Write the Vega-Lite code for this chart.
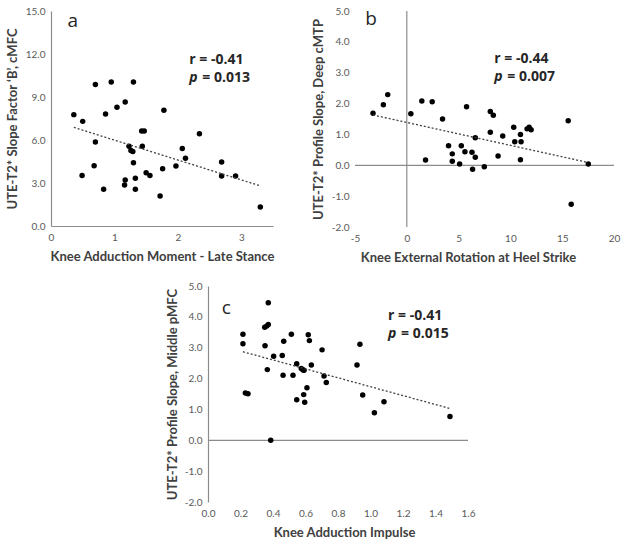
{
  "$schema": "https://vega.github.io/schema/vega-lite/v6.json",
  "padding": {"left": 6, "top": 6, "right": 5, "bottom": 5},
  "background": "white",
  "config": {
    "view": {"stroke": null},
    "font": "Lato",
    "locale": {"number": {"decimal": ".", "thousands": ",", "grouping": [3], "currency": ["$", ""], "minus": "-"}},
    "axis": {
      "grid": false, "ticks": false, "domainColor": "#8c8c8c", "domainWidth": 1.2,
      "labelColor": "#595959", "labelFont": "Lato", "labelFontSize": 10,
      "titleFont": "Lato", "titleFontSize": 13, "titleFontWeight": "bold", "titleColor": "#404040",
      "labelPadding": 6, "labelOverlap": false, "labelFlush": false, "labelBound": false
    },
    "text": {"font": "Open Sans"}
  },
  "datasets": {
    "a": [
      {"x":0.36,"y":7.77},{"x":0.50,"y":7.30},{"x":0.70,"y":9.88},{"x":0.95,"y":10.05},{"x":1.30,"y":10.05},
      {"x":1.17,"y":8.65},{"x":1.04,"y":8.28},{"x":0.86,"y":7.81},{"x":1.78,"y":8.07},{"x":1.43,"y":6.63},
      {"x":1.47,"y":6.63},{"x":2.34,"y":6.44},{"x":0.70,"y":5.86},{"x":1.23,"y":5.56},{"x":1.44,"y":5.56},
      {"x":1.26,"y":5.26},{"x":1.29,"y":5.19},{"x":2.07,"y":5.40},{"x":2.12,"y":4.72},{"x":1.30,"y":4.42},
      {"x":2.69,"y":4.47},{"x":0.68,"y":4.21},{"x":1.97,"y":4.19},{"x":1.76,"y":4.00},{"x":0.49,"y":3.53},
      {"x":1.50,"y":3.72},{"x":1.56,"y":3.53},{"x":2.69,"y":3.49},{"x":2.91,"y":3.49},{"x":1.33,"y":3.33},
      {"x":1.17,"y":3.21},{"x":1.16,"y":2.86},{"x":0.83,"y":2.56},{"x":1.33,"y":2.56},{"x":1.72,"y":2.09},
      {"x":3.30,"y":1.33}
    ],
    "aTrend": [{"x":0.36,"y":6.88},{"x":3.30,"y":2.80}],
    "b": [
      {"x":-3.26,"y":1.69},{"x":-2.26,"y":1.96},{"x":-1.84,"y":2.29},{"x":0.39,"y":1.67},{"x":1.45,"y":2.08},
      {"x":2.45,"y":2.06},{"x":1.81,"y":0.17},{"x":3.45,"y":1.50},{"x":5.77,"y":1.90},{"x":8.06,"y":1.74},
      {"x":8.35,"y":1.62},{"x":8.06,"y":1.07},{"x":6.61,"y":0.89},{"x":9.26,"y":0.95},{"x":4.03,"y":0.63},
      {"x":5.26,"y":0.63},{"x":5.61,"y":0.44},{"x":6.29,"y":0.42},{"x":4.39,"y":0.37},{"x":6.61,"y":0.26},
      {"x":4.39,"y":0.13},{"x":5.10,"y":0.04},{"x":6.35,"y":-0.13},{"x":7.48,"y":-0.05},{"x":8.81,"y":0.30},
      {"x":10.32,"y":1.23},{"x":10.97,"y":1.00},{"x":10.42,"y":0.76},{"x":11.03,"y":0.76},{"x":10.97,"y":0.18},
      {"x":11.61,"y":1.18},{"x":11.81,"y":1.23},{"x":12.00,"y":1.15},{"x":15.58,"y":1.44},{"x":17.52,"y":0.04},
      {"x":15.87,"y":-1.26}
    ],
    "bTrend": [{"x":-3.26,"y":1.63},{"x":17.5,"y":0.09}],
    "c": [
      {"x":0.215,"y":3.44},{"x":0.215,"y":3.13},{"x":0.23,"y":1.53},{"x":0.246,"y":1.51},{"x":0.349,"y":3.66},
      {"x":0.361,"y":3.70},{"x":0.371,"y":3.75},{"x":0.371,"y":4.46},{"x":0.351,"y":3.06},{"x":0.365,"y":2.29},
      {"x":0.386,"y":0.0},{"x":0.404,"y":2.72},{"x":0.457,"y":2.75},{"x":0.466,"y":3.21},{"x":0.462,"y":2.11},
      {"x":0.513,"y":3.44},{"x":0.523,"y":2.11},{"x":0.546,"y":2.48},{"x":0.546,"y":1.31},{"x":0.574,"y":2.33},
      {"x":0.585,"y":2.28},{"x":0.591,"y":2.27},{"x":0.589,"y":1.48},{"x":0.595,"y":1.23},{"x":0.609,"y":1.70},
      {"x":0.617,"y":3.42},{"x":0.624,"y":3.23},{"x":0.636,"y":2.44},{"x":0.702,"y":2.93},{"x":0.714,"y":2.08},
      {"x":0.728,"y":1.87},{"x":0.917,"y":2.44},{"x":0.935,"y":3.11},{"x":0.952,"y":1.47},{"x":1.024,"y":0.89},
      {"x":1.083,"y":1.25},{"x":1.489,"y":0.77}
    ],
    "cTrend": [{"x":0.215,"y":2.87},{"x":1.489,"y":1.03}],
    "zero": [{"v":0}],
    "one": [{}],
    "none": []
  },
  "spacing": 17,
  "vconcat": [
    {
      "hconcat": [
        {
          "width": 222, "height": 215,
          "layer": [
            {
              "data": {"name": "a"},
              "mark": {"type": "circle", "size": 30, "color": "black", "opacity": 1},
              "encoding": {
                "x": {"field": "x", "type": "quantitative", "scale": {"domain": [0, 3.5], "nice": false, "zero": false},
                      "axis": {"values": [0,1,2,3], "tickCount": 12, "format": "d", "title": "Knee Adduction Moment - Late Stance", "titlePadding": 8}},
                "y": {"field": "y", "type": "quantitative", "scale": {"domain": [0, 15], "nice": false},
                      "axis": {"values": [0,3,6,9,12,15], "tickCount": 12, "format": ".1f", "title": "UTE-T2* Slope Factor \u2018B\u2019, cMFC", "titlePadding": 6}}
              }
            },
            {
              "data": {"name": "aTrend"},
              "mark": {"type": "line", "color": "#404040", "strokeDash": [2, 2], "strokeWidth": 1.3},
              "encoding": {"x": {"field": "x", "type": "quantitative"}, "y": {"field": "y", "type": "quantitative"}}
            },
            {
              "data": {"name": "one"},
              "mark": {"type": "text", "text": "a", "fontSize": 19, "align": "left", "baseline": "middle", "color": "#262626"},
              "encoding": {"x": {"datum": 0.26}, "y": {"datum": 14.3}}
            },
            {
              "data": {"name": "one"},
              "mark": {"type": "text", "text": "r = -0.41", "fontSize": 14, "fontWeight": "bold", "align": "left", "baseline": "middle", "color": "#262626"},
              "encoding": {"x": {"datum": 2.18}, "y": {"datum": 11.6}}
            },
            {
              "data": {"name": "one"},
              "mark": {"type": "text", "text": "p", "fontSize": 14, "fontWeight": "bold", "fontStyle": "italic", "align": "left", "baseline": "middle", "color": "#262626"},
              "encoding": {"x": {"datum": 2.18}, "y": {"datum": 10.35}}
            },
            {
              "data": {"name": "one"},
              "mark": {"type": "text", "text": "= 0.013", "fontSize": 14, "fontWeight": "bold", "align": "left", "baseline": "middle", "color": "#262626", "dx": 13},
              "encoding": {"x": {"datum": 2.18}, "y": {"datum": 10.35}}
            }
          ]
        },
        {
          "width": 259, "height": 216,
          "layer": [
            {
              "data": {"name": "zero"},
              "mark": {"type": "rule", "color": "#8c8c8c", "strokeWidth": 1.2},
              "encoding": {"x": {"field": "v", "type": "quantitative"}}
            },
            {
              "data": {"name": "zero"},
              "mark": {"type": "rule", "color": "#8c8c8c", "strokeWidth": 1.2},
              "encoding": {"y": {"field": "v", "type": "quantitative"}}
            },
            {
              "data": {"name": "b"},
              "mark": {"type": "circle", "size": 30, "color": "black", "opacity": 1},
              "encoding": {
                "x": {"field": "x", "type": "quantitative", "scale": {"domain": [-5, 20], "nice": false, "zero": false},
                      "axis": {"values": [-5,0,5,10,15,20], "tickCount": 12, "domain": false, "title": "Knee External Rotation at Heel Strike", "titlePadding": 8, "titleX": 113}},
                "y": {"field": "y", "type": "quantitative", "scale": {"domain": [-2, 5], "nice": false},
                      "axis": {"values": [-2,-1,0,1,2,3,4,5], "tickCount": 12, "format": ".1f", "domain": false, "title": "UTE-T2* Profile Slope, Deep cMTP", "titlePadding": 6}}
              }
            },
            {
              "data": {"name": "bTrend"},
              "mark": {"type": "line", "color": "#404040", "strokeDash": [2, 2], "strokeWidth": 1.3},
              "encoding": {"x": {"field": "x", "type": "quantitative"}, "y": {"field": "y", "type": "quantitative"}}
            },
            {
              "data": {"name": "one"},
              "mark": {"type": "text", "text": "b", "fontSize": 19, "align": "left", "baseline": "middle", "color": "#262626"},
              "encoding": {"x": {"datum": -4.0}, "y": {"datum": 4.75}}
            },
            {
              "data": {"name": "one"},
              "mark": {"type": "text", "text": "r = -0.44", "fontSize": 14, "fontWeight": "bold", "align": "left", "baseline": "middle", "color": "#262626"},
              "encoding": {"x": {"datum": 8.45}, "y": {"datum": 3.44}}
            },
            {
              "data": {"name": "one"},
              "mark": {"type": "text", "text": "p", "fontSize": 14, "fontWeight": "bold", "fontStyle": "italic", "align": "left", "baseline": "middle", "color": "#262626"},
              "encoding": {"x": {"datum": 8.45}, "y": {"datum": 2.85}}
            },
            {
              "data": {"name": "one"},
              "mark": {"type": "text", "text": "= 0.007", "fontSize": 14, "fontWeight": "bold", "align": "left", "baseline": "middle", "color": "#262626", "dx": 13},
              "encoding": {"x": {"datum": 8.45}, "y": {"datum": 2.85}}
            }
          ]
        }
      ],
      "spacing": 37
    },
    {
      "spacing": 0,
      "hconcat": [
        {
          "width": 115, "height": 10,
          "data": {"name": "none"},
          "mark": {"type": "point", "opacity": 0}
        },
        {
          "width": 260, "height": 216,
          "layer": [
            {
              "data": {"name": "zero"},
              "mark": {"type": "rule", "color": "#8c8c8c", "strokeWidth": 1.2},
              "encoding": {"y": {"field": "v", "type": "quantitative"}}
            },
            {
              "data": {"name": "c"},
              "mark": {"type": "circle", "size": 30, "color": "black", "opacity": 1},
              "encoding": {
                "x": {"field": "x", "type": "quantitative", "scale": {"domain": [0, 1.6], "nice": false, "zero": false},
                      "axis": {"values": [0,0.2,0.4,0.6,0.8,1.0,1.2,1.4,1.6], "tickCount": 12, "format": ".1f", "domain": false, "title": "Knee Adduction Impulse", "titlePadding": 8, "titleX": 136}},
                "y": {"field": "y", "type": "quantitative", "scale": {"domain": [-2, 5], "nice": false},
                      "axis": {"values": [-2,-1,0,1,2,3,4,5], "tickCount": 12, "format": ".1f", "title": "UTE-T2* Profile Slope, Middle pMFC", "titlePadding": 5}}
              }
            },
            {
              "data": {"name": "cTrend"},
              "mark": {"type": "line", "color": "#404040", "strokeDash": [2, 2], "strokeWidth": 1.3},
              "encoding": {"x": {"field": "x", "type": "quantitative"}, "y": {"field": "y", "type": "quantitative"}}
            },
            {
              "data": {"name": "one"},
              "mark": {"type": "text", "text": "c", "fontSize": 19, "align": "left", "baseline": "middle", "color": "#262626"},
              "encoding": {"x": {"datum": 0.085}, "y": {"datum": 4.3}}
            },
            {
              "data": {"name": "one"},
              "mark": {"type": "text", "text": "r = -0.41", "fontSize": 14, "fontWeight": "bold", "align": "left", "baseline": "middle", "color": "#262626"},
              "encoding": {"x": {"datum": 1.108}, "y": {"datum": 4.03}}
            },
            {
              "data": {"name": "one"},
              "mark": {"type": "text", "text": "p", "fontSize": 14, "fontWeight": "bold", "fontStyle": "italic", "align": "left", "baseline": "middle", "color": "#262626"},
              "encoding": {"x": {"datum": 1.108}, "y": {"datum": 3.43}}
            },
            {
              "data": {"name": "one"},
              "mark": {"type": "text", "text": "= 0.015", "fontSize": 14, "fontWeight": "bold", "align": "left", "baseline": "middle", "color": "#262626", "dx": 13},
              "encoding": {"x": {"datum": 1.108}, "y": {"datum": 3.43}}
            }
          ]
        }
      ]
    }
  ]
}
